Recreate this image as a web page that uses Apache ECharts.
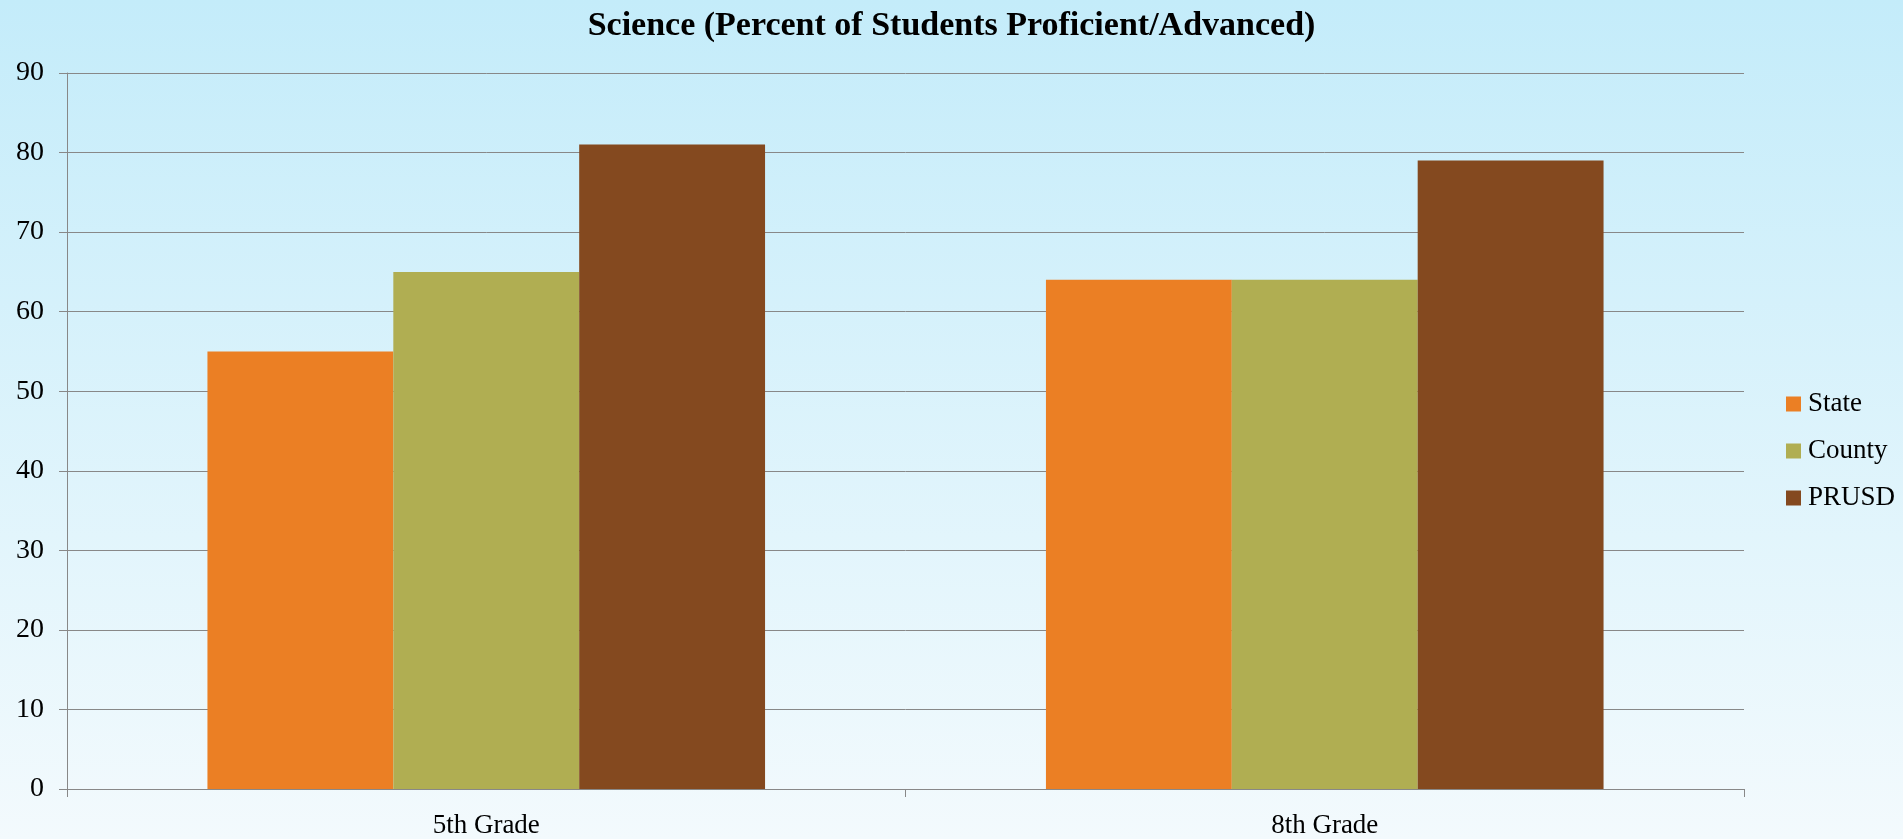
<!DOCTYPE html>
<html>
<head>
<meta charset="utf-8">
<script src="https://cdn.jsdelivr.net/npm/echarts@6/dist/echarts.min.js"></script>
<style>
html,body{margin:0;padding:0;width:1903px;height:839px;overflow:hidden;}
#chart{width:1903px;height:839px;}
</style>
</head>
<body>
<div id="chart"></div>
<script>
const titleText = 'Science (Percent of Students Proficient/Advanced)';
const categories = ['5th Grade', '8th Grade'];
const seriesNames = ['State', 'County', 'PRUSD'];
const stateValues = [55, 64];
const countyValues = [65, 64];
const prusdValues = [81, 79];
const colors = ['#EB7F24', '#B0AE52', '#84491F'];
const FONT = '"Liberation Serif", serif';

const chart = echarts.init(document.getElementById('chart'));
const dataSets = [stateValues, countyValues, prusdValues];
chart.setOption({
  backgroundColor: new echarts.graphic.LinearGradient(0, 0, 0, 1, [
    {offset: 0, color: '#C4ECFA'},
    {offset: 1, color: '#F3FAFD'}
  ]),
  animation: false,
  title: {
    text: titleText,
    left: 'center',
    top: 4,
    textStyle: {fontFamily: FONT, fontWeight: 'bold', fontSize: 34, color: '#000'}
  },
  legend: {
    orient: 'vertical',
    left: 1781,
    top: 385,
    itemWidth: 15,
    itemHeight: 15,
    itemGap: 19,
    icon: 'rect',
    textStyle: {fontFamily: FONT, fontSize: 27, color: '#000', lineHeight: 28, padding: [0, 0, 0, 2]},
    data: seriesNames
  },
  grid: {left: 67, right: 159, top: 73, bottom: 49},
  xAxis: {
    type: 'category',
    data: categories,
    axisLine: {lineStyle: {color: '#888888', width: 1}},
    axisTick: {show: true, length: 8, lineStyle: {color: '#888888'}},
    axisLabel: {fontFamily: FONT, fontSize: 27, color: '#000', margin: 23}
  },
  yAxis: {
    type: 'value',
    min: 0,
    max: 90,
    interval: 10,
    axisLine: {show: true, lineStyle: {color: '#888888', width: 1}},
    axisTick: {show: true, length: 8, lineStyle: {color: '#888888'}},
    splitLine: {lineStyle: {color: '#888888', width: 1}},
    axisLabel: {fontFamily: FONT, fontSize: 28, color: '#000', margin: 23}
  },
  series: seriesNames.map((n, i) => ({
    name: n,
    type: 'bar',
    data: dataSets[i],
    barGap: '0%',
    barCategoryGap: '33.5%',
    itemStyle: {color: colors[i]}
  }))
});
</script>
</body>
</html>
